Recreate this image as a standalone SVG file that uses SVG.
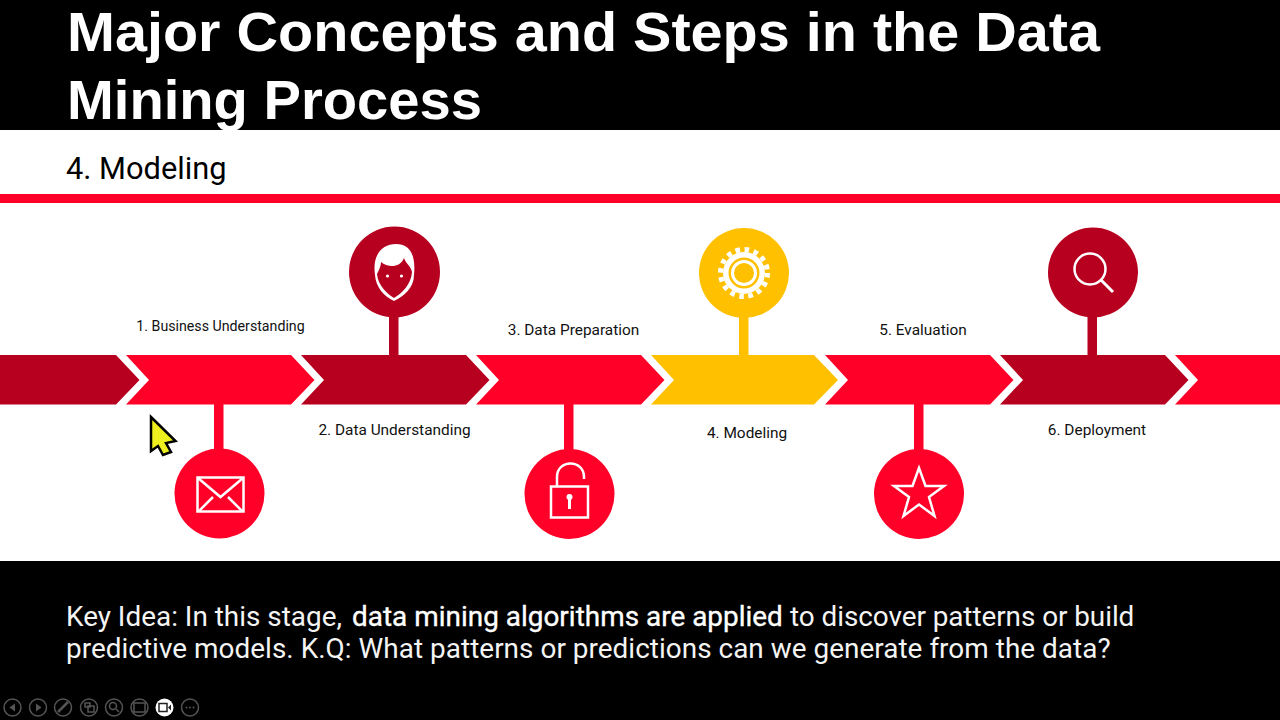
<svg xmlns="http://www.w3.org/2000/svg" width="1280" height="720" viewBox="0 0 1280 720">
<style>
text{font-family:Roboto,"Liberation Sans",sans-serif}
.title{font-family:"Liberation Sans",Arial,sans-serif;font-size:55.800px;fill:#fff;font-weight:700}
.sub{font-size:30.800px;fill:#000}
.body{font-size:27.900px;fill:#f4f4f4}
.em{fill:#fff;stroke:#fff;stroke-width:0.350px;letter-spacing:0.020px}
.lab{font-size:15.400px;fill:#111;text-anchor:middle}
.dark{fill:#B7001F}.red{fill:#FF0029}.yel{fill:#FFC000}
.ic{fill:none;stroke:#fff;stroke-width:2.5}
.tb{fill:none;stroke:#555;stroke-width:1.5}
.tbf{fill:#555}
</style>
<rect width="1280" height="720" fill="#000"/>
<rect y="130" width="1280" height="431" fill="#fff"/>
<rect y="194" width="1280" height="9" fill="#FF0029"/>
<text class="title" x="67" y="50.500" textLength="1033" lengthAdjust="spacingAndGlyphs">Major Concepts and Steps in the Data</text>
<text class="title" x="67" y="119" textLength="415" lengthAdjust="spacingAndGlyphs">Mining Process</text>
<text class="sub" x="66" y="179">4. Modeling</text>
<g id="connectors">
<rect class="red" x="214" y="404" width="9.500" height="48"/>
<rect class="dark" x="389" y="316" width="9.500" height="40"/>
<rect class="red" x="564" y="404" width="9.500" height="48"/>
<rect class="yel" x="739" y="316" width="9.500" height="40"/>
<rect class="red" x="914" y="404" width="9.500" height="48"/>
<rect class="dark" x="1087.500" y="316" width="9.500" height="40"/>
</g>
<g id="arrow-band">
<polygon class="dark" points="0,355 116,355 139.500,380 116,404.500 0,404.500"/>
<polygon class="red" points="126,355 291,355 314.500,380 291,404.500 126,404.500 149,380"/>
<polygon class="dark" points="301,355 466,355 489.500,380 466,404.500 301,404.500 324,380"/>
<polygon class="red" points="476,355 641,355 664.500,380 641,404.500 476,404.500 499,380"/>
<polygon class="yel" points="651,355 814,355 838,380 814,404.500 651,404.500 674,380"/>
<polygon class="red" points="825,355 990,355 1013.500,380 990,404.500 825,404.500 848,380"/>
<polygon class="dark" points="1000,355 1165,355 1188.500,380 1165,404.500 1000,404.500 1023,380"/>
<polygon class="red" points="1175,355 1280,355 1280,404.500 1175,404.500 1198,380"/>
</g>
<g id="node-1">
<circle class="red" cx="219.500" cy="493.500" r="45"/>
<rect class="ic" x="197.500" y="477.500" width="46" height="34"/>
<path class="ic" d="M198,478 L220.500,497 L243,478 M199,511 L213,497 M242,511 L228,497"/>
<text class="lab" x="220.500" y="331" style="font-size:14.200px">1. Business Understanding</text>
</g>
<g id="node-2">
<circle class="dark" cx="394.500" cy="272" r="45.500"/>
<path fill="#fff" d="M375,275 C372,255 382,244 396,244 C410,244 416,255 414,275 C414,288 404,296 394,301 C384,296 376,288 375,275 Z"/>
<path class="dark" d="M377,274 C379,270 381,266 381,262 C388,268 400,268 404,258 C406,264 411,266 412,272 C411,285 402,293 394,298 C386,293 378,285 377,274 Z"/>
<circle cx="387.500" cy="276" r="1.600" fill="#fff"/>
<circle cx="401.500" cy="276" r="1.600" fill="#fff"/>
<text class="lab" x="394.500" y="435">2. Data Understanding</text>
</g>
<g id="node-3">
<circle class="red" cx="569.500" cy="494" r="45"/>
<rect class="ic" x="551" y="486.500" width="37" height="31"/>
<path class="ic" d="M557,486 V477 C557,459 584,459 584,477 V479"/>
<circle cx="569.500" cy="497" r="3" fill="#fff"/>
<rect x="568" y="497" width="3" height="12" fill="#fff"/>
<text class="lab" x="573.500" y="335">3. Data Preparation</text>
</g>
<g id="node-4">
<circle class="yel" cx="744" cy="273" r="45"/>
<circle cx="744" cy="273" r="23.500" fill="none" stroke="#fff" stroke-width="5" stroke-dasharray="4.610 4.610"/>
<circle cx="744" cy="273" r="18.250" class="ic" style="stroke-width:5.500"/>
<circle cx="744" cy="273" r="11.500" class="ic" style="stroke-width:3"/>
<text class="lab" x="747" y="438">4. Modeling</text>
</g>
<g id="node-5">
<circle class="red" cx="919" cy="494" r="45"/>
<polygon class="ic" points="919,468 925.500,486 944,486 929,497 934.500,516 919,504.500 903.500,516 909,497 894,486 912.500,486"/>
<text class="lab" x="923" y="335">5. Evaluation</text>
</g>
<g id="node-6">
<circle class="dark" cx="1093" cy="272.500" r="45"/>
<circle class="ic" cx="1090" cy="269" r="15.500"/>
<path class="ic" style="stroke-width:3" d="M1101,280 L1113,292"/>
<text class="lab" x="1097" y="435">6. Deployment</text>
</g>
<text class="body" y="626"><tspan x="66">Key Idea: In this stage,</tspan><tspan class="em" x="352">data mining algorithms are applied</tspan><tspan x="790" letter-spacing="-0.060">to discover patterns or build</tspan></text>
<text class="body" x="66" y="658" letter-spacing="0.035">predictive models. K.Q: What patterns or predictions can we generate from the data?</text>
<g id="cursor">
<polygon points="151,417 175.500,441 166,443 171,452 163,455 158,446 151,451" fill="#EDF01E" stroke="#000" stroke-width="2.500"/>
</g>
<g id="toolbar">
<circle class="tb" cx="12.500" cy="707.500" r="8.500"/>
<polygon class="tbf" points="15,703.500 9.500,707.500 15,711.500"/>
<circle class="tb" cx="38" cy="707.500" r="8.500"/>
<polygon class="tbf" points="36,703.500 41.500,707.500 36,711.500"/>
<circle class="tb" cx="63" cy="707.500" r="8.500"/>
<path class="tb" style="stroke-width:2.500" d="M58,712 L68,702"/>
<circle class="tb" cx="89" cy="707.500" r="8.500"/>
<rect class="tb" x="85" y="703" width="5" height="4"/>
<rect class="tb" x="88" y="706" width="6" height="6"/>
<circle class="tb" cx="114" cy="707.500" r="8.500"/>
<circle class="tb" cx="113" cy="706" r="3.500"/>
<path class="tb" d="M116,709 L119,712"/>
<circle class="tb" cx="139.500" cy="707.500" r="8.500"/>
<rect class="tb" x="134" y="703" width="11" height="9"/>
<circle cx="164.500" cy="707.500" r="9" fill="#fff"/>
<rect x="159" y="703.500" width="8" height="8" fill="none" stroke="#222" stroke-width="1.500"/>
<polygon points="168,707.500 171,704.500 171,710.500" fill="#222"/>
<circle class="tb" cx="190" cy="707.500" r="8.500"/>
<circle class="tbf" cx="186.500" cy="707.500" r="1"/>
<circle class="tbf" cx="190" cy="707.500" r="1"/>
<circle class="tbf" cx="193.500" cy="707.500" r="1"/>
</g>
</svg>
